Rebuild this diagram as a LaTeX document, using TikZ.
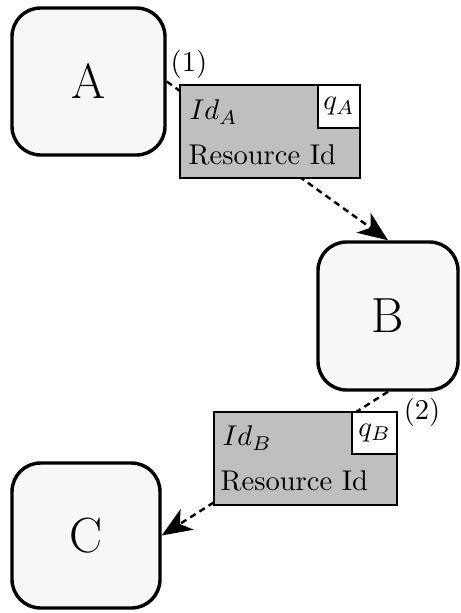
\documentclass[tikz,border=0pt]{standalone}
\usetikzlibrary{arrows.meta}
\begin{document}
\begin{tikzpicture}[x=0.35pt,y=-0.35pt,
 host/.style={draw,line width=1.2pt,rounded corners=10pt,fill=black!3,inner sep=0pt,font=\LARGE},
 packet/.style={draw,line width=0.9pt,fill=black!25,inner sep=0pt},
 qbox/.style={draw,line width=0.9pt,fill=white,inner sep=0pt},
 txt/.style={inner sep=0pt,anchor=west},
 link/.style={line width=0.85pt,dash pattern=on 2.2pt off 1.6pt,-{Stealth[length=10.5pt,width=8.5pt,inset=3pt]}}]
\useasboundingbox (0,0) rectangle (460,613);
% hosts
\node[host,minimum width={153*0.35pt},minimum height={147*0.35pt}] (A) at (88.5,81.5) {A};
\node[host,minimum width={140*0.35pt},minimum height={148*0.35pt}] (B) at (388,316) {B};
\node[host,minimum width={148*0.35pt},minimum height={145*0.35pt}] (C) at (86,535.5) {C};
% links
\draw[link] (A.east) -- (B.north);
\draw[link] (B.south) -- (C.east);
% packet 1
\node[packet,minimum width={180*0.35pt},minimum height={93*0.35pt}] (p1) at (270,131.5) {};
\node[qbox,minimum width={42*0.35pt},minimum height={43*0.35pt}] (q1) at (339,106.5) {$q_A$};
\node[txt] (id1) at (189,112) {$Id_A$};
\node[txt] (r1) at (188,155) {Resource Id};
\node (l1) at (189,64) {(1)};
% packet 2
\node[packet,minimum width={183*0.35pt},minimum height={93*0.35pt}] (p2) at (305.5,458.5) {};
\node[qbox,minimum width={45*0.35pt},minimum height={42*0.35pt}] (q2) at (374.5,433) {$q_B$};
\node[txt] (id2) at (222,438) {$Id_B$};
\node[txt] (r2) at (220,481) {Resource Id};
\node (l2) at (422,412) {(2)};
\end{tikzpicture}
\end{document}
